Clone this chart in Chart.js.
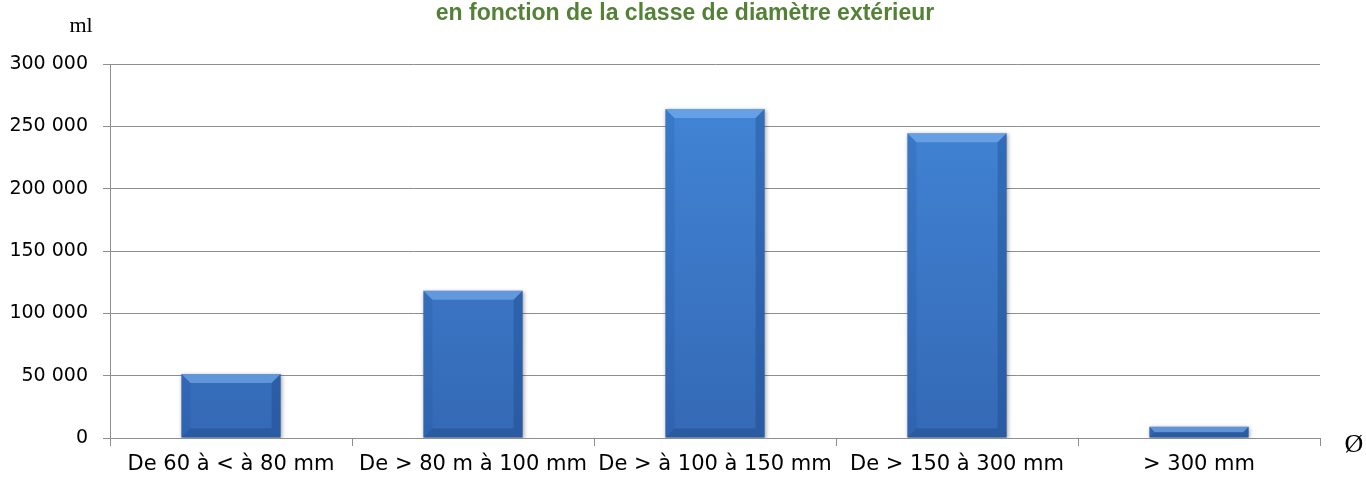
<!DOCTYPE html>
<html>
<head>
<meta charset="utf-8">
<script src="https://cdn.jsdelivr.net/npm/chart.js@4"></script>
<style>
  html, body { margin: 0; padding: 0; background: #fff; overflow: hidden; }
</style>
</head>
<body>
<canvas id="js-diam-chart" width="1366" height="484"></canvas>
<script>
  var categories = ['De 60 à < à 80 mm', 'De > 80 m à 100 mm', 'De > à 100 à 150 mm', 'De > 150 à 300 mm', '> 300 mm'];
  var lengths = [51300, 118200, 263900, 244500, 9000];
  var titleText = 'en fonction de la classe de diamètre extérieur';
  var yUnit = 'ml';
  var xUnit = 'Ø';

  var GRID = '#8e8e8e';

  function spaced(v) {
    return String(v).replace(/\B(?=(\d{3})+(?!\d))/g, ' ');
  }

  // texts outside the plot: title, units
  var extraText = {
    id: 'extraText',
    afterDraw: function(chart) {
      var ctx = chart.ctx;
      ctx.save();
      ctx.fillStyle = '#538135';
      ctx.font = 'bold 23px "Liberation Sans", Arial, sans-serif';
      ctx.textAlign = 'center';
      ctx.textBaseline = 'alphabetic';
      ctx.fillText(titleText, 685, 20);
      ctx.fillStyle = '#000';
      ctx.font = '22px "Liberation Serif", "Times New Roman", serif';
      ctx.fillText(yUnit, 81, 32);
      ctx.font = '26px "Liberation Serif", "Times New Roman", serif';
      ctx.fillText(xUnit, 1354, 452);
      ctx.restore();
    }
  };

  // bevel + shadow look of the bars
  var bevel = {
    id: 'bevel',
    beforeDatasetsDraw: function(chart) {
      var ctx = chart.ctx;
      ctx.save();
      ctx.shadowColor = 'rgba(0,0,0,0.35)';
      ctx.shadowBlur = 4;
      ctx.shadowOffsetX = 1;
      ctx.shadowOffsetY = 1;
    },
    afterDatasetsDraw: function(chart) {
      var ctx = chart.ctx;
      ctx.restore();
      ctx.save();
      chart.getDatasetMeta(0).data.forEach(function(bar) {
        var l = bar.x - bar.width / 2, r = bar.x + bar.width / 2;
        var t = bar.y, b = bar.base;
        var s = Math.min(9, (b - t) / 2);
        // top
        ctx.fillStyle = 'rgba(140,190,245,0.5)';
        ctx.beginPath();
        ctx.moveTo(l, t); ctx.lineTo(r, t); ctx.lineTo(r - s, t + s); ctx.lineTo(l + s, t + s);
        ctx.closePath(); ctx.fill();
        // left
        ctx.fillStyle = 'rgba(30,80,150,0.18)';
        ctx.beginPath();
        ctx.moveTo(l, t); ctx.lineTo(l + s, t + s); ctx.lineTo(l + s, b - s); ctx.lineTo(l, b);
        ctx.closePath(); ctx.fill();
        // right
        ctx.fillStyle = 'rgba(20,60,120,0.3)';
        ctx.beginPath();
        ctx.moveTo(r, t); ctx.lineTo(r - s, t + s); ctx.lineTo(r - s, b - s); ctx.lineTo(r, b);
        ctx.closePath(); ctx.fill();
        // bottom
        ctx.fillStyle = 'rgba(20,55,110,0.3)';
        ctx.beginPath();
        ctx.moveTo(l, b); ctx.lineTo(l + s, b - s); ctx.lineTo(r - s, b - s); ctx.lineTo(r, b);
        ctx.closePath(); ctx.fill();
      });
      ctx.restore();
    }
  };

  var ctx = document.getElementById('js-diam-chart').getContext('2d');

  var myChart = new Chart(ctx, {
    type: 'bar',
    data: {
      labels: categories,
      datasets: [{
        data: lengths,
        backgroundColor: function(c) {
          var area = c.chart.chartArea;
          if (!area) return '#3a74c4';
          var g = c.chart.ctx.createLinearGradient(0, area.top, 0, area.bottom);
          g.addColorStop(0, '#4387d9');
          g.addColorStop(1, '#3469b5');
          return g;
        },
        borderWidth: 0,
        barPercentage: 0.41,
        categoryPercentage: 1
      }]
    },
    options: {
      responsive: false,
      animation: false,
      layout: { padding: { top: 64, right: 46, bottom: 0, left: 0 } },
      plugins: {
        legend: { display: false },
        tooltip: { enabled: false },
        title: { display: false }
      },
      scales: {
        x: {
          grid: { display: true, drawOnChartArea: false, drawTicks: true, tickLength: 8, color: GRID, offset: true },
          border: { display: true, color: GRID, width: 1 },
          ticks: {
            color: '#000',
            padding: 6,
            maxRotation: 0,
            autoSkip: false,
            font: { family: '"DejaVu Sans", sans-serif', size: 21 }
          },
          afterFit: function(scale) { scale.height = 46; }
        },
        y: {
          min: 0,
          max: 300000,
          grid: { color: GRID, lineWidth: 1, tickLength: 7 },
          border: { display: true, color: GRID, width: 1 },
          ticks: {
            stepSize: 50000,
            color: '#000',
            padding: 15,
            font: { family: '"DejaVu Sans", sans-serif', size: 19 },
            callback: function(v) { return spaced(v); }
          },
          afterFit: function(scale) { scale.width = 110; }
        }
      }
    },
    plugins: [bevel, extraText]
  });
</script>
</body>
</html>
